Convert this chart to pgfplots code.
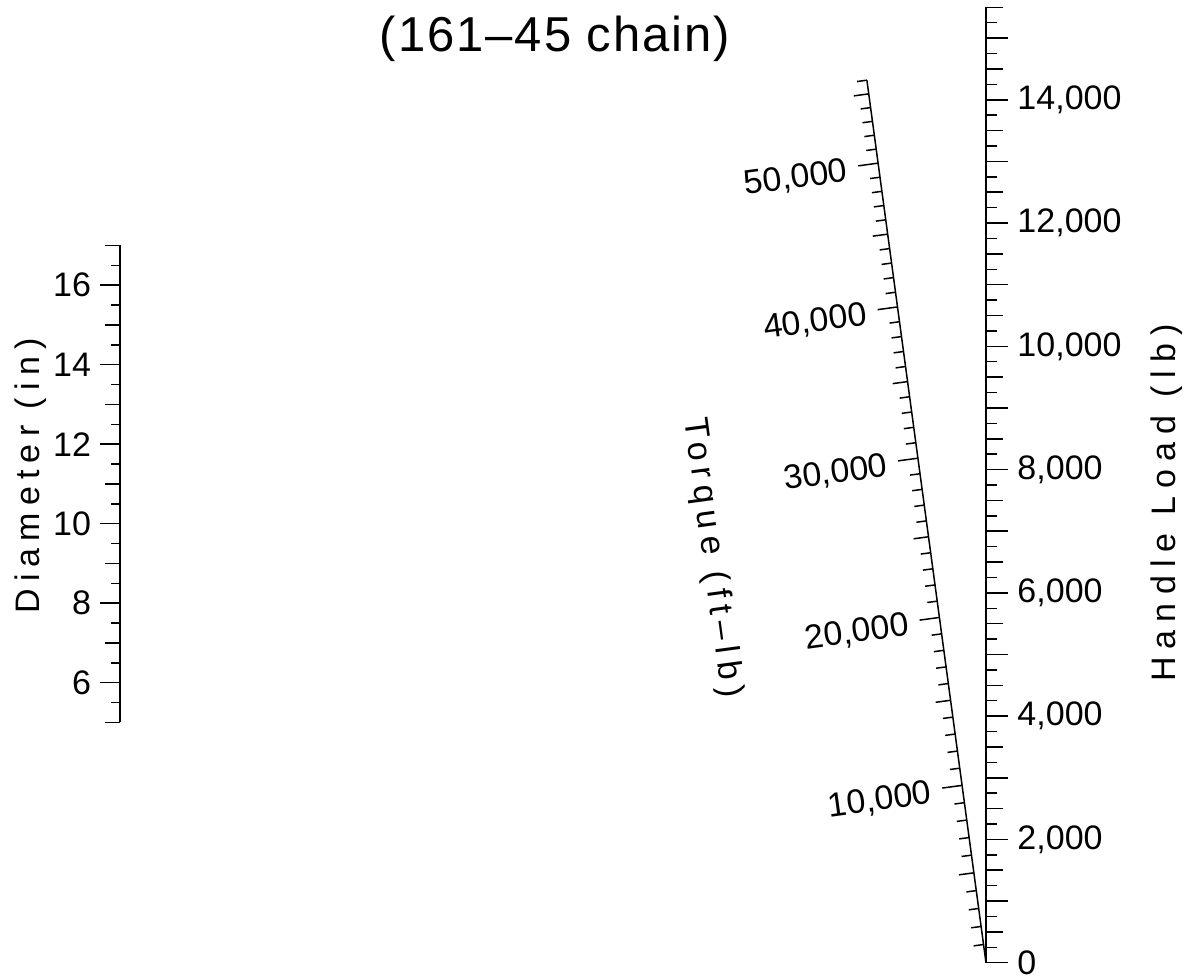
\documentclass[border=0pt]{standalone}
\usepackage{fontspec}
\setmainfont{Liberation Sans}
\usepackage{pgfplots}
\pgfplotsset{compat=1.18}
\newcommand\tickfont{\fontsize{13.6}{16}\selectfont}
\begin{document}
\begin{tikzpicture}
% frame axis in pixel units (1 px = 0.4pt), y measured downwards
\begin{axis}[name=frame, at={(0pt,0pt)}, anchor=south west, scale only axis,
  width=479.6pt, height=391.2pt, xmin=0, xmax=1199, ymin=0, ymax=978,
  y dir=reverse, hide axis, clip=false]
  \node[anchor=base, inner sep=0pt, font={\fontsize{19.6}{22}\selectfont\addfontfeatures{LetterSpace=4}}]
    at (axis cs:555,51) {(161–45 chain)};
  \node[rotate=90, inner sep=0pt, font={\tickfont\addfontfeatures{LetterSpace=21}}]
    at (axis cs:31,476) {Diameter (in)};
  \node[rotate=90, inner sep=0pt, font={\tickfont\addfontfeatures{LetterSpace=24}}]
    at (axis cs:1167,503) {Handle Load (lb)};
  \node[rotate=-82.3, inner sep=0pt, font={\tickfont\addfontfeatures{LetterSpace=20}}]
    at (axis cs:712,558) {Torque (ft–lb)};
  % torque scale line
  \addplot[black, line width=0.6pt] coordinates {(986,962.7) (866.9,80.2)};
  % torque ticks (1000 ft-lb steps)
  \foreach \tv in {1,...,56} {
    \pgfmathsetmacro\uu{182.3*(\tv/10)/(1+0.028*(\tv/10))}
    \pgfmathsetmacro\xa{986-0.135*\uu}
    \pgfmathsetmacro\ya{962.7-\uu}
    \pgfmathtruncatemacro\mten{mod(\tv,10)}
    \pgfmathtruncatemacro\mfive{mod(\tv,5)}
    \pgfmathsetmacro\LL{\mten==0 ? 20 : (\mfive==0 ? 15 : 10)}
    \pgfmathsetmacro\xb{\xa-0.991*\LL}
    \pgfmathsetmacro\yb{\ya+0.1338*\LL}
    \edef\temp{\noexpand\draw[black, line width=0.6pt] (axis cs:\xa,\ya) -- (axis cs:\xb,\yb);}
    \temp
  }
  \foreach \tv/\lab in {10/{10,000},20/{20,000},30/{30,000},40/{40,000},50/{50,000}} {
    \pgfmathsetmacro\uu{182.3*(\tv/10)/(1+0.028*(\tv/10))}
    \pgfmathsetmacro\lx{986-0.135*\uu-30.72+0.535}
    \pgfmathsetmacro\ly{962.7-\uu+4.148+3.964}
    \edef\temp{\noexpand\node[anchor=east, inner sep=0pt, rotate=7.7, font=\noexpand\tickfont] at (axis cs:\lx,\ly) {\lab};}
    \temp
  }
\end{axis}
% Diameter scale
\begin{axis}[at={(48pt,102.2pt)}, anchor=south west, scale only axis,
  width=1pt, height=190.8pt, xmin=0, xmax=1, ymin=5, ymax=17,
  axis x line=none, axis y line*=left, axis line style={-, black, line width=0.6pt},
  tick align=outside, tick style={black, line width=0.6pt},
  ytick={6,8,10,12,14,16}, yticklabels={6,8,10,12,14,16},
  minor ytick={5,5.5,...,17},
  extra y ticks={5,7,9,11,13,15,17}, extra y tick labels={},
  extra y tick style={major tick length=6pt},
  major tick length=8pt, minor tick length=3.6pt,
  yticklabel style={font=\tickfont, inner sep=0pt, anchor=east, xshift=-3.4pt}, clip=false]
\end{axis}
% Handle load scale
\begin{axis}[at={(394.4pt,6.12pt)}, anchor=south east, scale only axis,
  width=1pt, height=382.16pt, xmin=0, xmax=1, ymin=0, ymax=15500,
  axis x line=none, axis y line*=right, axis line style={-, black, line width=0.6pt},
  tick align=outside, tick style={black, line width=0.6pt},
  scaled y ticks=false,
  ytick={0,1000,...,15000},
  yticklabels={0,{},{2,000},{},{4,000},{},{6,000},{},{8,000},{},{10,000},{},{12,000},{},{14,000},{}},
  minor ytick={0,250,...,15500},
  extra y ticks={500,1500,...,15500}, extra y tick labels={},
  extra y tick style={major tick length=6.8pt},
  major tick length=8.8pt, minor tick length=4.4pt,
  yticklabel style={font=\tickfont, inner sep=0pt, anchor=west, xshift=3.6pt}, clip=false]
\end{axis}
\pgfresetboundingbox
\path (0pt,0pt) rectangle (479.6pt,391.2pt);
\end{tikzpicture}
\end{document}
